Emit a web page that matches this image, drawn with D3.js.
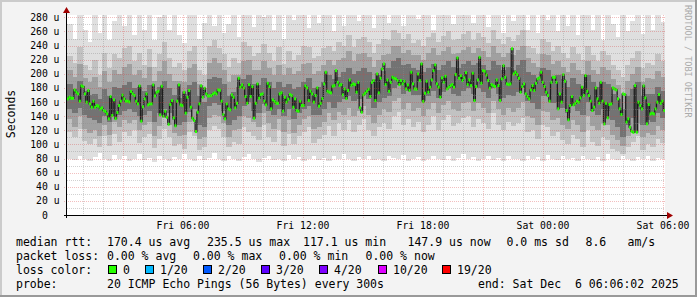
<!DOCTYPE html>
<html>
<head>
<meta charset="utf-8">
<title>SmokePing latency - D3</title>
<script src="https://d3js.org/d3.v7.min.js"></script>
<style>
  body { margin: 0; background: #f3f3f3; }
  svg { display: block; }
  text { font-family: 'DejaVu Sans Mono', monospace; fill: #000; white-space: pre; }
  .ax { font-size: 9.75px; }
  .lg { font-size: 11.5px; }
</style>
</head>
<body>
<div id="chart"></div>
<script>
// time window of the graph
var tStart = new Date(2025, 11, 5, 0, 12, 0);
var tEnd = new Date(2025, 11, 6, 6, 6, 2);

// median rtt (us), one value per probe round
var medianRtt = [
  164.5,166.8,165.4,165.4,177.2,173.9,171.5,161.2,182.9,181.9,
  171.5,159.8,176.3,157.4,152.7,161.2,152.7,155.0,154.1,150.3,
  151.7,148.0,146.6,143.2,136.2,167.8,140.9,163.1,136.6,145.1,
  155.0,161.2,169.7,164.5,161.2,161.2,160.2,174.8,171.5,169.2,
  161.2,157.4,182.9,132.9,153.2,164.5,171.5,156.0,157.4,157.4,
  184.3,168.7,173.9,175.3,141.8,182.4,139.9,147.0,138.5,128.6,
  156.5,162.1,137.6,126.3,161.2,184.3,156.0,155.0,173.9,144.2,
  166.8,176.3,152.7,137.1,133.8,118.3,145.6,157.4,182.9,166.8,
  179.6,171.5,168.7,168.7,
  169.2,171.5,173.0,171.5,177.2,176.7,161.2,142.3,136.2,157.4,
  150.3,148.9,170.1,166.8,151.7,158.3,193.7,181.0,184.3,180.0,
  167.8,158.3,184.7,167.8,181.9,137.1,158.3,185.7,165.4,170.6,
  171.5,161.2,156.0,186.6,181.9,150.3,163.1,160.7,158.3,158.3,
  171.5,173.0,147.0,166.8,159.8,164.0,170.6,169.2,152.7,164.5,
  148.0,147.0,161.2,155.0,155.0,182.9,180.0,162.1,175.3,171.5,
  159.8,169.2,180.0,154.1,158.3,164.9,185.7,202.2,175.3,173.9,
  173.0,182.4,183.3,204.5,188.0,183.3,184.7,170.1,178.6,164.9,
  176.3,191.3,183.8,185.7,
  184.7,173.9,188.0,151.7,145.6,170.1,172.5,175.3,178.1,167.8,
  188.0,190.4,162.1,199.8,173.0,193.7,206.9,214.0,184.7,191.3,
  175.3,188.0,195.1,193.7,192.8,190.4,184.7,190.4,185.7,189.5,
  178.6,184.3,176.3,202.2,185.7,178.6,178.1,199.8,190.4,214.0,
  160.7,172.5,189.5,173.9,181.0,191.3,204.5,212.6,185.7,181.0,
  166.8,194.2,188.0,196.5,178.6,181.0,183.3,184.7,181.0,198.9,
  222.5,193.7,197.5,190.4,194.2,201.7,184.7,191.3,183.3,200.8,
  162.1,181.9,191.3,223.4,186.6,204.5,203.6,198.4,190.4,179.6,
  184.7,183.3,181.9,191.3,183.3,162.1,192.8,211.6,195.1,185.7,
  184.7,
  185.7,235.5,199.8,202.2,198.9,193.7,173.9,181.9,185.7,171.5,
  167.8,164.5,177.2,183.3,176.3,186.6,192.8,194.2,202.2,188.0,
  181.9,173.9,169.2,161.2,188.0,195.1,195.1,188.0,150.3,171.5,
  159.8,198.9,189.5,148.0,134.8,155.0,167.8,156.0,158.3,161.2,
  159.8,165.9,181.0,169.2,197.5,175.3,169.2,161.2,148.0,152.7,
  180.0,164.5,158.3,188.0,161.2,129.1,158.3,137.6,156.5,157.4,
  180.0,178.6,177.2,164.5,150.3,142.3,171.5,170.6,131.5,136.2,
  124.4,118.7,117.1,183.3,117.3,159.8,155.0,150.3,182.9,165.9,
  129.1,156.5,143.2,144.2,143.2,150.3,159.8,170.6,158.3,161.2,
  147.9
];

// smoke: spread of the 20 pings per time slot (us)
var smokeLo = [
  80,78,84,79,76,82,88,80,77,85, 79,83,76,80,86,78,81,75,84,80,
  77,82,79,86,80,76,83,78,81,88, 79,76,84,80,77,82,86,79,75,81,
  83,78,80,76,85,79,82,77,80,84, 78,81,76,83,79,86,80,77,82,79,
  84,78,80,76,83,81,79,85,77,80, 82,76,79,84,80,78,83,77,81,86,
  79,82,76,80,84,78,81,77,83,79, 80,76,84,79,82,77,85,80,78,83,
  79,81,76,84,80,78,82,77,86,80, 78,83,79,76,82,80,84,77,81,79
];
var smokeP10 = [
  118,110,122,105,100,108,96,112,98,115, 104,118,112,120,102,110,115,95,108,122,
  110,98,100,94,118,112,92,96,120,126, 122,110,96,104,100,124,118,112,106,128,
  110,104,120,98,115,100,112,118,124,102, 108,114,126,112,130,120,134,118,128,136,
  120,112,124,130,122,140,146,128,136,124, 132,118,128,140,120,134,142,126,130,138,
  140,124,136,130,122,144,128,120,132,126, 130,138,118,120,108,128,124,112,118,106,
  100,114,108,96,120,104,98,110,106,94, 90,86,96,104,112,92,100,96,108,102
];
var smokeP20 = [
  136,124,140,122,116,120,112,128,114,132, 124,134,130,134,120,128,132,112,126,138,
  128,116,112,114,132,134,108,110,138,142, 140,130,110,120,122,140,138,132,124,144,
  130,122,136,118,134,116,128,136,140,122, 124,132,144,134,146,142,152,140,148,154,
  142,130,142,150,146,162,166,150,158,148, 152,140,150,158,144,156,162,150,148,158,
  160,148,158,152,144,162,150,142,152,146, 152,160,140,138,128,148,146,134,138,128,
  122,134,128,118,140,126,120,130,128,114, 106,98,112,120,130,110,116,114,126,120
];
var smokeP30 = [
  150,145,152,142,138,135,130,140,132,146, 142,148,150,146,140,142,147,132,144,150,
  144,134,128,132,146,150,127,124,154,158, 156,148,128,134,140,155,160,148,144,157,
  148,142,150,140,150,136,144,150,155,142, 142,150,160,152,160,164,168,162,165,170,
  164,152,160,166,168,180,184,172,176,170, 170,162,168,176,166,174,180,172,168,176,
  180,172,180,174,166,180,172,166,170,168, 174,180,162,158,150,168,170,158,160,152,
  144,154,148,142,160,148,142,150,148,134, 124,110,128,138,150,128,134,132,144,138
];
var smokeP70 = [
  185,178,190,176,170,172,165,178,168,182, 180,184,188,180,182,176,184,170,182,190,
  180,170,166,172,184,188,168,160,192,196, 194,186,168,174,182,192,198,186,184,194,
  188,180,188,182,186,178,182,188,194,180, 182,188,198,192,196,202,208,200,204,208,
  202,192,198,204,208,218,222,212,214,208, 206,202,208,214,206,212,218,210,208,214,
  218,212,216,212,206,218,212,206,210,206, 212,220,202,198,192,208,206,196,198,192,
  182,194,186,182,198,188,182,188,186,172, 164,150,168,178,188,168,172,172,182,176
];
var smokeP80 = [
  205,196,214,194,188,196,182,204,188,205, 200,210,214,198,206,194,210,190,204,218,
  200,190,190,188,208,214,186,180,216,222, 215,206,188,198,198,218,220,206,206,218,
  208,198,212,198,208,200,204,214,216,200, 204,212,220,212,220,222,232,218,228,230,
  224,210,220,226,228,240,240,230,234,226, 226,220,230,236,226,232,238,228,230,234,
  238,230,236,232,224,240,230,224,230,226, 234,240,222,216,210,228,226,214,218,210,
  202,216,206,200,218,206,200,210,206,192, 184,172,190,200,210,188,194,192,204,196
];
var smokeP90 = [
  225,215,238,212,205,220,198,230,208,228, 222,236,240,218,230,212,235,210,228,245,
  222,210,215,205,232,240,205,198,240,248, 236,228,210,222,215,245,240,225,230,242,
  230,218,238,214,232,220,226,240,238,222, 225,236,240,232,245,240,255,238,250,252,
  245,230,242,250,248,262,258,250,256,244, 248,240,252,258,245,254,260,248,250,256,
  260,248,258,252,244,262,250,242,252,246, 255,262,240,236,228,250,245,232,240,230,
  222,238,228,220,240,226,218,232,226,212, 205,195,212,222,232,208,215,212,228,218
];
var smokeHi = [
  270,250,290,262,245,290,258,290,248,275, 290,268,290,255,290,262,290,248,280,290,
  262,290,255,244,290,290,250,272,290,268, 290,258,270,290,252,290,290,266,290,280,
  290,262,290,250,290,276,290,290,265,290, 272,290,290,260,290,268,290,290,275,290,
  290,265,290,290,272,290,290,268,290,290, 278,290,290,262,290,290,290,270,290,285,
  290,272,290,290,266,290,290,258,290,275, 290,290,262,290,258,290,276,290,260,290,
  268,290,255,290,290,262,290,248,290,270, 252,290,260,275,290,256,290,262,290,274
];

// y axis ticks (us)
var yTickValues = [0, 20, 40, 60, 80, 100, 120, 140, 160, 180, 200, 220, 240, 260, 280];

// legend figures
var rttStats = [170.4, 235.5, 117.1, 147.9];
var rttSd = 0.0;
var rttAms = 8.6;
var lossStats = [0.00, 0.00, 0.00, 0.00];
var lossLabels = ["0", "1/20", "2/20", "3/20", "4/20", "10/20", "19/20"];
var probeText = "20 ICMP Echo Pings (56 Bytes) every 300s";
var endText = "end: Sat Dec  6 06:06:02 2025";

// ---- layout / style ----
var W = 697, H = 297;
var pl = 67, pr = 665, pt = 15, pb = 215;
var lossColors = ["#26ff00", "#00b8ff", "#0059ff", "#5e00ff", "#7e00ff", "#dd00ff", "#ff0000"];

var svg = d3.select("#chart").append("svg")
  .attr("width", W).attr("height", H);

svg.append("rect").attr("width", W).attr("height", H).attr("fill", "#f3f3f3");
// 3d frame
svg.append("rect").attr("x", 0).attr("y", 0).attr("width", W).attr("height", 2).attr("fill", "#cbcbcb");
svg.append("rect").attr("x", 0).attr("y", 0).attr("width", 2).attr("height", H).attr("fill", "#cbcbcb");
svg.append("rect").attr("x", 0).attr("y", H - 2).attr("width", W).attr("height", 2).attr("fill", "#999");
svg.append("rect").attr("x", W - 2).attr("y", 0).attr("width", 2).attr("height", H).attr("fill", "#999");

var x = d3.scaleTime().domain([tStart, tEnd]).range([pl, pr]);
var y = d3.scaleLinear().domain([0, 283.3]).range([pb, pt]);

svg.append("rect").attr("x", pl).attr("y", pt).attr("width", pr - pl).attr("height", pb - pt).attr("fill", "#fff");

svg.append("clipPath").attr("id", "clip")
  .append("rect").attr("x", pl).attr("y", pt).attr("width", pr - pl).attr("height", pb - pt);

var plotG = svg.append("g").attr("clip-path", "url(#clip)");

// smoke
var span = tEnd - tStart;
var nSmoke = smokeLo.length;
function slotT(i, n) { return new Date(+tStart + span * i / n); }

var bands = [
  [smokeLo, smokeHi, "#dfdfdf"],
  [smokeP10, smokeP90, "#c2c2c2"],
  [smokeP20, smokeP80, "#a0a0a0"],
  [smokeP30, smokeP70, "#737373"]
];
bands.forEach(function(b) {
  plotG.append("g").attr("shape-rendering", "crispEdges")
    .selectAll("rect")
    .data(d3.range(nSmoke))
    .enter().append("rect")
    .attr("x", i => x(slotT(i, nSmoke)))
    .attr("width", i => x(slotT(i + 1, nSmoke)) - x(slotT(i, nSmoke)) + 0.6)
    .attr("y", i => y(b[1][i]))
    .attr("height", i => y(b[0][i]) - y(b[1][i]))
    .attr("fill", b[2]);
});

// median: dark connectors + loss coloured marks
var nMed = medianRtt.length;
var medX = i => x(new Date(+tStart + span * (i + 0.5) / nMed));
plotG.append("path")
  .datum(medianRtt)
  .attr("fill", "none")
  .attr("stroke", "#1e1e1e")
  .attr("stroke-width", 1.3)
  .attr("d", d3.line().x((d, i) => medX(i)).y(d => y(d)).curve(d3.curveStep));

plotG.append("g").selectAll("rect")
  .data(medianRtt)
  .enter().append("rect")
  .attr("x", (d, i) => medX(i) - 1)
  .attr("y", d => y(d) - 1.5)
  .attr("width", 2)
  .attr("height", 3)
  .attr("fill", lossColors[0]);

// grid
var hours = x.ticks(d3.timeHour.every(1));
var minorC = "rgba(140,140,140,0.4)", majorC = "rgba(215,60,60,0.33)";
var gridG = svg.append("g").attr("shape-rendering", "crispEdges");
gridG.selectAll(".vmin").data(hours.filter(d => d.getHours() % 3 != 0))
  .enter().append("line")
  .attr("x1", d => Math.round(x(d)) + 0.5).attr("x2", d => Math.round(x(d)) + 0.5)
  .attr("y1", pt).attr("y2", pb)
  .attr("stroke", minorC).attr("stroke-dasharray", "1,1");
gridG.selectAll(".hmin").data(y.ticks(28).filter(d => d % 20 != 0))
  .enter().append("line")
  .attr("x1", pl).attr("x2", pr)
  .attr("y1", d => Math.round(y(d)) + 0.5).attr("y2", d => Math.round(y(d)) + 0.5)
  .attr("stroke", minorC).attr("stroke-dasharray", "1,1");
gridG.selectAll(".vmaj").data(hours.filter(d => d.getHours() % 3 == 0))
  .enter().append("line")
  .attr("x1", d => Math.round(x(d)) + 0.5).attr("x2", d => Math.round(x(d)) + 0.5)
  .attr("y1", pt).attr("y2", pb + 3)
  .attr("stroke", majorC).attr("stroke-dasharray", "1,1");
gridG.selectAll(".hmaj").data(yTickValues.filter(d => d > 0))
  .enter().append("line")
  .attr("x1", pl - 3).attr("x2", pr)
  .attr("y1", d => Math.round(y(d)) + 0.5).attr("y2", d => Math.round(y(d)) + 0.5)
  .attr("stroke", majorC).attr("stroke-dasharray", "1,1");

// axes
svg.append("line").attr("x1", pl - 3).attr("x2", pr + 3).attr("y1", pb + 0.5).attr("y2", pb + 0.5)
  .attr("stroke", "#000").attr("shape-rendering", "crispEdges");
svg.append("line").attr("x1", pl - 0.5).attr("x2", pl - 0.5).attr("y1", pb + 3).attr("y2", pt - 3)
  .attr("stroke", "#000").attr("shape-rendering", "crispEdges");
svg.append("path").attr("d", "M" + (pr + 2) + "," + (pb - 3) + "L" + (pr + 8) + "," + (pb + 0.5) + "L" + (pr + 2) + "," + (pb + 4) + "Z")
  .attr("fill", "#a00000");
svg.append("path").attr("d", "M" + (pl - 4) + "," + (pt - 2) + "L" + (pl - 0.5) + "," + (pt - 8) + "L" + (pl + 3) + "," + (pt - 2) + "Z")
  .attr("fill", "#a00000");

// axis labels
svg.append("g").selectAll("text")
  .data(hours.filter(d => d.getHours() % 6 == 0))
  .enter().append("text")
  .attr("class", "ax")
  .attr("x", d => x(d))
  .attr("y", 228.5)
  .attr("text-anchor", "middle")
  .text(d3.timeFormat("%a %H:%M"));

svg.append("g").selectAll("text")
  .data(yTickValues)
  .enter().append("text")
  .attr("class", "ax")
  .attr("x", 59.5)
  .attr("y", d => y(d) + 3.5)
  .attr("text-anchor", "end")
  .text(d => d == 0 ? "0  " : d + " u");

svg.append("text").attr("class", "lg")
  .attr("transform", "translate(15,114) rotate(-90)")
  .attr("text-anchor", "middle")
  .text("Seconds");

svg.append("text")
  .attr("transform", "translate(685,5) rotate(90)")
  .style("font-size", "8.5px")
  .style("fill", "#aaaaaa")
  .text("RRDTOOL / TOBI OETIKER");

// legend
var lg = svg.append("g").attr("class", "lg");
function put(txt, px, py) {
  lg.append("text").attr("x", px).attr("y", py).text(txt);
}
var row = [245.5, 259.5, 273.5, 287.5];
put("median rtt:", 16, row[0]);
var rttNames = ["avg", "max", "min", "now"];
var rttX = [107, 207, 303, 407.5];
rttStats.forEach(function(v, i) { put(v.toFixed(1) + " us " + rttNames[i], rttX[i], row[0]); });
put(rttSd.toFixed(1) + " ms sd", 506.5, row[0]);
put(rttAms.toFixed(1), 585.5, row[0]);
put("am/s", 627.5, row[0]);

put("packet loss:", 16, row[1]);
var lossX = [107, 193, 279, 365.5];
lossStats.forEach(function(v, i) { put(v.toFixed(2) + " % " + rttNames[i], lossX[i], row[1]); });

put("loss color:", 16, row[2]);
var swX = [108.5, 145.5, 203.5, 261.5, 319.5, 378.5, 442.5];
lossLabels.forEach(function(l, i) {
  lg.append("rect").attr("x", swX[i]).attr("y", 265.5).attr("width", 8).attr("height", 8)
    .attr("fill", lossColors[i]).attr("stroke", "#000").attr("stroke-width", 1);
  put(l, swX[i] + 14.5, row[2]);
});

put("probe:", 16, row[3]);
put(probeText, 107, row[3]);
put(endText, 478, row[3]);
</script>
</body>
</html>
